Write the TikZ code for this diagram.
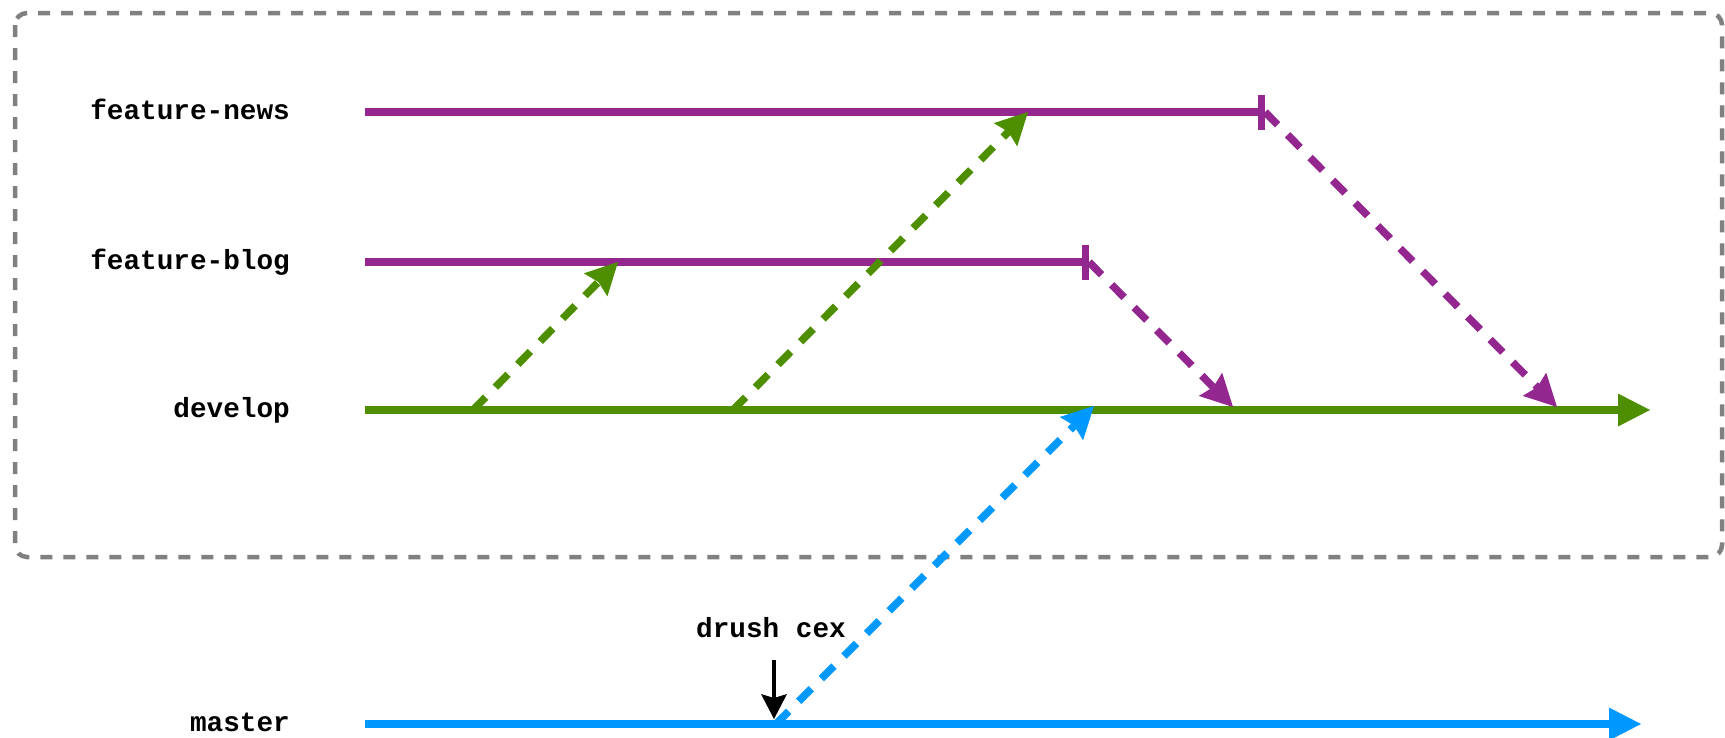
\documentclass[tikz,border=0pt]{standalone}
\usepackage{fontspec}
\setmonofont{Liberation Mono}
\usetikzlibrary{arrows.meta}
\definecolor{branchpurple}{HTML}{93278F}
\definecolor{branchgreen}{HTML}{4D8F00}
\definecolor{branchblue}{HTML}{0099FF}
\definecolor{framegray}{HTML}{808080}
\tikzset{
  lbl/.style={font=\ttfamily\bfseries\fontsize{27.7}{30}\selectfont, inner sep=0pt, anchor=base east},
  branch/.style={line width=7.5pt},
  merge/.style={line width=7.5pt, dash pattern=on 18pt off 14pt,
    -{Stealth[length=32pt,width=33pt,inset=4pt,line width=0pt]}},
  headtip/.style={-{Triangle[length=32pt,width=33pt,line width=0pt]}},
  endbar/.style={-{Bar[width=35pt]}},
  cexarrow/.style={line width=4pt, -{Stealth[length=25pt,width=26pt,inset=4pt,line width=0pt]}},
  frame/.style={framegray, line width=4.5pt, dash pattern=on 12pt off 11pt, rounded corners=12pt},
}
\begin{document}
\begin{tikzpicture}[x=1pt,y=-1pt]
\useasboundingbox (0,0) rectangle (1725,737);

% dashed frame around the working branches
\draw[frame] (15,13) rectangle (1722,557);

% branch labels
\node[lbl] (lnews)   at (290,119) {feature-news};
\node[lbl] (lblog)   at (290,269) {feature-blog};
\node[lbl] (ldev)    at (290,417) {develop};
\node[lbl] (lmaster) at (290,731) {master};
\node[lbl, anchor=base] (ldrush) at (771,637) {drush cex};

% branch line end points
\coordinate (news0)  at (365,112);
\coordinate (newsend) at (1265,112);
\coordinate (blog0)  at (365,262);
\coordinate (blogend) at (1089,262);
\coordinate (dev0)   at (365,410);
\coordinate (devend) at (1650,410);
\coordinate (mas0)   at (365,724);
\coordinate (masend) at (1641,724);

% merge points
\coordinate (g1a) at (473,410);
\coordinate (g1b) at (618,262);
\coordinate (g2a) at (733,410);
\coordinate (g2b) at (1028,112);
\coordinate (p1b) at (1233,407);
\coordinate (p2b) at (1557,407);
\coordinate (b0)  at (776,724);
\coordinate (b1)  at (1094,406);
\coordinate (k0)  at (774,660);
\coordinate (k1)  at (774,719);

% branches
\draw[branch, branchpurple, endbar] (news0) -- (newsend);
\draw[branch, branchpurple, endbar] (blog0) -- (blogend);
\draw[branch, branchgreen, headtip] (dev0) -- (devend);
\draw[branch, branchblue, headtip] (mas0) -- (masend);

% merges
\draw[merge, branchgreen] (g1a) -- (g1b);
\draw[merge, branchgreen] (g2a) -- (g2b);
\draw[merge, branchpurple] (blogend) -- (p1b);
\draw[merge, branchpurple] (newsend) -- (p2b);
\draw[merge, branchblue] (b0) -- (b1);

% export marker
\draw[cexarrow] (k0) -- (k1);
\end{tikzpicture}
\end{document}
